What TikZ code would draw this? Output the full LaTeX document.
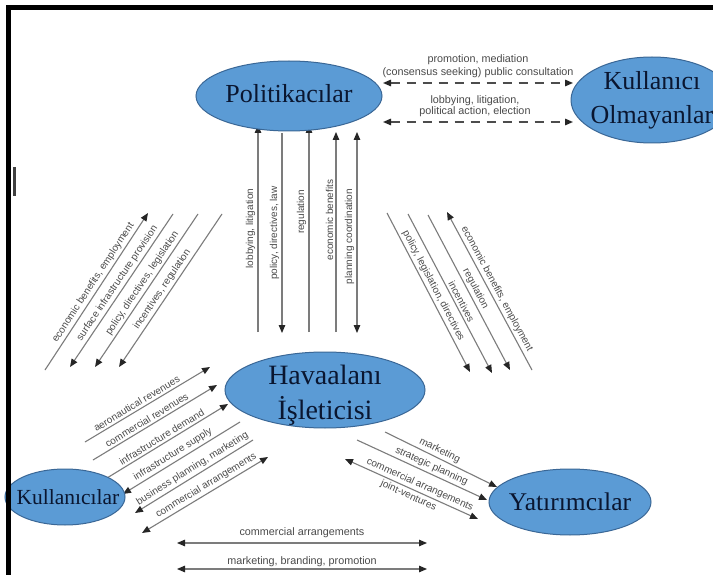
\documentclass[tikz,border=0pt]{standalone}
\usepackage{fontspec}
\setmainfont{Liberation Serif}
\newfontfamily\lblfont{Liberation Sans}
\usetikzlibrary{arrows.meta,shapes.geometric}
\pgfdeclarelayer{paper}
\pgfdeclarelayer{bg}
\pgfsetlayers{paper,bg,main}

\definecolor{actorfill}{HTML}{5B9BD5}
\definecolor{actorline}{HTML}{3A6796}
\definecolor{actortext}{HTML}{0A1630}
\definecolor{flowline}{HTML}{7C7C7C}
\definecolor{flowtext}{HTML}{4A4A4A}

\tikzset{
  >={Triangle[length=8pt,width=6.5pt,color=black!85]},
  actor/.style={ellipse, draw=actorline, line width=1pt, fill=actorfill, inner sep=0pt},
  actorname/.style={text=actortext, inner sep=0pt, align=center},
  flow/.style={draw=flowline, line width=1.1pt},
  dflow/.style={draw=black!70, line width=1.4pt, dash pattern=on 9pt off 7pt},
  lbl/.style={font=\lblfont\fontsize{10}{11}\selectfont, text=flowtext, inner sep=2.2pt},
  biglbl/.style={font=\lblfont\fontsize{10.8}{12}\selectfont, text=flowtext, inner sep=1.5pt, align=center},
}

\begin{document}
\begin{tikzpicture}[x=1pt,y=-1pt]
\useasboundingbox (0,0) rectangle (713,575);
\begin{pgfonlayer}{paper}
\fill[white] (0,0) rectangle (713,575);
\end{pgfonlayer}

% actors: fixed-size ellipses, names set as centred labels
\node[actor, minimum width=186, minimum height=70,
      label={[actorname, font=\fontsize{26}{28}\selectfont, yshift=2pt]center:Politikacılar}] (pol) at (289,96) {};
\node[actor, minimum width=162, minimum height=86,
      label={[actorname, font=\fontsize{26}{34}\selectfont]center:Kullanıcı\\Olmayanlar}] (non) at (652,100) {};
\node[actor, minimum width=200, minimum height=76,
      label={[actorname, font=\fontsize{28}{35}\selectfont, yshift=-5pt]center:Havaalanı\\İşleticisi}] (air) at (325,390) {};
\node[actor, minimum width=120, minimum height=56,
      label={[actorname, font=\fontsize{21.5}{24}\selectfont, xshift=3pt]center:Kullanıcılar}] (usr) at (65,497) {};
\node[actor, minimum width=162, minimum height=66,
      label={[actorname, font=\fontsize{25.5}{28}\selectfont]center:Yatırımcılar}] (inv) at (570,502) {};

% connector end points
\coordinate (d1a) at (383,83);  \coordinate (d1b) at (573,83);
\coordinate (d2a) at (383,122); \coordinate (d2b) at (573,122);

\coordinate (v1b) at (258,332); \coordinate (v1t) at (258,125);
\coordinate (v2b) at (282,333); \coordinate (v2t) at (282,133);
\coordinate (v3b) at (309,332); \coordinate (v3t) at (309,125);
\coordinate (v4b) at (336,332); \coordinate (v4t) at (336,132);
\coordinate (v5b) at (357,333); \coordinate (v5t) at (357,132);

\coordinate (l1a) at (45,370);  \coordinate (l1b) at (148,213);
\coordinate (l2a) at (70,367);  \coordinate (l2b) at (173,214);
\coordinate (l3a) at (95,367);  \coordinate (l3b) at (198,214);
\coordinate (l4a) at (119,367); \coordinate (l4b) at (222,214);

\coordinate (r1a) at (387,213); \coordinate (r1b) at (470,372);
\coordinate (r2a) at (408,214); \coordinate (r2b) at (492,373);
\coordinate (r3a) at (428,215); \coordinate (r3b) at (510,370);
\coordinate (r4a) at (447,212); \coordinate (r4b) at (532,370);

\coordinate (b1a) at (85,442);  \coordinate (b1b) at (210,367);
\coordinate (b2a) at (93,460);  \coordinate (b2b) at (217,385);
\coordinate (b3a) at (107,478); \coordinate (b3b) at (228,404);
\coordinate (b4a) at (123,494); \coordinate (b4b) at (240,422);
\coordinate (b5a) at (135,513); \coordinate (b5b) at (253,440);
\coordinate (b6a) at (142,533); \coordinate (b6b) at (268,457);

\coordinate (c1a) at (385,432); \coordinate (c1b) at (497,487);
\coordinate (c2a) at (357,440); \coordinate (c2b) at (487,500);
\coordinate (c3a) at (345,459); \coordinate (c3b) at (478,519);

\coordinate (h1a) at (177,543); \coordinate (h1b) at (427,543);
\coordinate (h2a) at (177,569); \coordinate (h2b) at (427,569);

\begin{pgfonlayer}{bg}
% politicians <-> non-users
\draw[dflow,<->] (d1a) -- node[biglbl,above=3pt,font=\lblfont\fontsize{10.8}{13}\selectfont] {promotion, mediation\\(consensus seeking) public consultation} (d1b);
\draw[dflow,<->] (d2a) -- node[biglbl,above=3pt,font=\lblfont\fontsize{10.8}{11}\selectfont,xshift=-3pt] {lobbying, litigation,\\political action, election} (d2b);

% politicians <-> airport operator
\draw[flow,->]  (v1b) -- node[lbl,sloped,above,pos=.5]  {lobbying, litigation} (v1t);
\draw[flow,<-]  (v2b) -- node[lbl,sloped,above,pos=.5]  {policy, directives, law} (v2t);
\draw[flow,->]  (v3b) -- node[lbl,sloped,above,pos=.58] {regulation} (v3t);
\draw[flow,->]  (v4b) -- node[lbl,sloped,above,pos=.56] {economic benefits} (v4t);
\draw[flow,<->] (v5b) -- node[lbl,sloped,above,pos=.48] {planning coordination} (v5t);

% politicians <-> users
\draw[flow,->] (l1a) -- node[lbl,sloped,above,pos=.53] {economic benefits, employment} (l1b);
\draw[flow,<-] (l2a) -- node[lbl,sloped,above,pos=.52] {surface infrastructure provision} (l2b);
\draw[flow,<-] (l3a) -- node[lbl,sloped,above,pos=.52] {policy, directives, legislation} (l3b);
\draw[flow,<-] (l4a) -- node[lbl,sloped,above,pos=.48] {incentives, regulation} (l4b);

% politicians <-> investors
\draw[flow,->] (r1a) -- node[lbl,sloped,above,pos=.48] {policy, legislation, directives} (r1b);
\draw[flow,->] (r2a) -- node[lbl,sloped,above,pos=.57] {incentives} (r2b);
\draw[flow,->] (r3a) -- node[lbl,sloped,above,pos=.5]  {regulation} (r3b);
\draw[flow,<-] (r4a) -- node[lbl,sloped,above,pos=.51] {economic benefits, employment} (r4b);

% users <-> airport operator
\draw[flow,->]  (b1a) -- node[lbl,sloped,above,pos=.44] {aeronautical revenues} (b1b);
\draw[flow,->]  (b2a) -- node[lbl,sloped,above,pos=.46] {commercial revenues} (b2b);
\draw[flow,->]  (b3a) -- node[lbl,sloped,above,pos=.48] {infrastructure demand} (b3b);
\draw[flow,<-]  (b4a) -- node[lbl,sloped,above,pos=.46] {infrastructure supply} (b4b);
\draw[flow,<-]  (b5a) -- node[lbl,sloped,above,pos=.52] {business planning, marketing} (b5b);
\draw[flow,<->] (b6a) -- node[lbl,sloped,above,pos=.54] {commercial arrangements} (b6b);

% airport operator <-> investors
\draw[flow,->]  (c1a) -- node[lbl,sloped,above,pos=.46] {marketing} (c1b);
\draw[flow,->]  (c2a) -- node[lbl,sloped,above,pos=.55] {strategic planning} (c2b);
\draw[flow,<->] (c3a) -- node[lbl,sloped,above,pos=.54] {commercial arrangements}
                        node[lbl,sloped,below,pos=.5]  {joint-ventures} (c3b);

% users <-> investors
\draw[flow,<->] (h1a) -- node[biglbl,above=3pt] {commercial arrangements} (h1b);
\draw[flow,<->] (h2a) -- node[biglbl,above=0pt] {marketing, branding, promotion} (h2b);
\end{pgfonlayer}

% frame
\draw[line width=5pt, black] (8.5,590) -- (8.5,7.5) -- (730,7.5);
\fill[black!75] (13,167) rectangle (16,196);
\end{tikzpicture}
\end{document}
